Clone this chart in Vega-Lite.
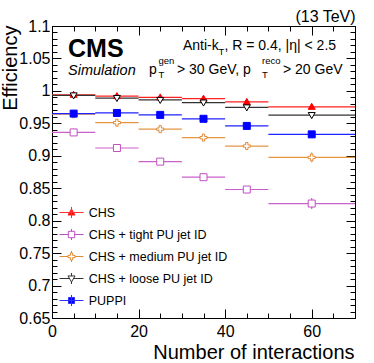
{
  "$schema": "https://vega.github.io/schema/vega-lite/v6.json",
  "width": 303,
  "height": 292,
  "autosize": "none",
  "padding": {"left": 52, "top": 26, "right": 19, "bottom": 45},
  "title": {"text": "(13 TeV)", "anchor": "end", "fontSize": 16, "fontWeight": "normal", "font": "Liberation Sans", "color": "black", "offset": -7},
  "config": {
    "font": "Liberation Sans",
    "text": {"font": "Liberation Sans"},
    "view": {"stroke": "black", "strokeWidth": 1},
    "axis": {"domain": false, "grid": false, "labelFont": "Liberation Sans", "labelColor": "black", "tickColor": "black", "tickWidth": 1, "labelFlush": false, "labelOverlap": false, "titleFont": "Liberation Sans", "titleColor": "black", "titleFontWeight": "normal"}
  },
  "data": {"name": "eff"},
  "datasets": {
    "eff": [
      {"series": "CHS", "lo": 0, "hi": 10, "mid": 5, "eff": 0.994, "elo": 0.992, "ehi": 0.996},
      {"series": "CHS", "lo": 10, "hi": 20, "mid": 15, "eff": 0.992, "elo": 0.990, "ehi": 0.994},
      {"series": "CHS", "lo": 20, "hi": 30, "mid": 25, "eff": 0.990, "elo": 0.988, "ehi": 0.992},
      {"series": "CHS", "lo": 30, "hi": 40, "mid": 35, "eff": 0.988, "elo": 0.985, "ehi": 0.991},
      {"series": "CHS", "lo": 40, "hi": 50, "mid": 45, "eff": 0.983, "elo": 0.980, "ehi": 0.986},
      {"series": "CHS", "lo": 50, "hi": 70, "mid": 60, "eff": 0.9755, "elo": 0.9715, "ehi": 0.9795},
      {"series": "CHS + tight PU jet ID", "lo": 0, "hi": 10, "mid": 5, "eff": 0.936, "elo": 0.934, "ehi": 0.938},
      {"series": "CHS + tight PU jet ID", "lo": 10, "hi": 20, "mid": 15, "eff": 0.912, "elo": 0.910, "ehi": 0.914},
      {"series": "CHS + tight PU jet ID", "lo": 20, "hi": 30, "mid": 25, "eff": 0.891, "elo": 0.888, "ehi": 0.894},
      {"series": "CHS + tight PU jet ID", "lo": 30, "hi": 40, "mid": 35, "eff": 0.867, "elo": 0.864, "ehi": 0.870},
      {"series": "CHS + tight PU jet ID", "lo": 40, "hi": 50, "mid": 45, "eff": 0.848, "elo": 0.844, "ehi": 0.852},
      {"series": "CHS + tight PU jet ID", "lo": 50, "hi": 70, "mid": 60, "eff": 0.8264, "elo": 0.818, "ehi": 0.835},
      {"series": "CHS + medium PU jet ID", "lo": 0, "hi": 10, "mid": 5, "eff": 0.964, "elo": 0.962, "ehi": 0.966},
      {"series": "CHS + medium PU jet ID", "lo": 10, "hi": 20, "mid": 15, "eff": 0.951, "elo": 0.949, "ehi": 0.953},
      {"series": "CHS + medium PU jet ID", "lo": 20, "hi": 30, "mid": 25, "eff": 0.941, "elo": 0.939, "ehi": 0.943},
      {"series": "CHS + medium PU jet ID", "lo": 30, "hi": 40, "mid": 35, "eff": 0.928, "elo": 0.925, "ehi": 0.931},
      {"series": "CHS + medium PU jet ID", "lo": 40, "hi": 50, "mid": 45, "eff": 0.915, "elo": 0.912, "ehi": 0.918},
      {"series": "CHS + medium PU jet ID", "lo": 50, "hi": 70, "mid": 60, "eff": 0.8974, "elo": 0.890, "ehi": 0.905},
      {"series": "CHS + loose PU jet ID", "lo": 0, "hi": 10, "mid": 5, "eff": 0.993, "elo": 0.991, "ehi": 0.995},
      {"series": "CHS + loose PU jet ID", "lo": 10, "hi": 20, "mid": 15, "eff": 0.989, "elo": 0.987, "ehi": 0.991},
      {"series": "CHS + loose PU jet ID", "lo": 20, "hi": 30, "mid": 25, "eff": 0.986, "elo": 0.984, "ehi": 0.988},
      {"series": "CHS + loose PU jet ID", "lo": 30, "hi": 40, "mid": 35, "eff": 0.982, "elo": 0.979, "ehi": 0.985},
      {"series": "CHS + loose PU jet ID", "lo": 40, "hi": 50, "mid": 45, "eff": 0.9745, "elo": 0.971, "ehi": 0.978},
      {"series": "CHS + loose PU jet ID", "lo": 50, "hi": 70, "mid": 60, "eff": 0.9627, "elo": 0.958, "ehi": 0.9675},
      {"series": "PUPPI", "lo": 0, "hi": 10, "mid": 5, "eff": 0.965, "elo": 0.963, "ehi": 0.967},
      {"series": "PUPPI", "lo": 10, "hi": 20, "mid": 15, "eff": 0.966, "elo": 0.964, "ehi": 0.968},
      {"series": "PUPPI", "lo": 20, "hi": 30, "mid": 25, "eff": 0.963, "elo": 0.961, "ehi": 0.965},
      {"series": "PUPPI", "lo": 30, "hi": 40, "mid": 35, "eff": 0.957, "elo": 0.955, "ehi": 0.959},
      {"series": "PUPPI", "lo": 40, "hi": 50, "mid": 45, "eff": 0.946, "elo": 0.943, "ehi": 0.949},
      {"series": "PUPPI", "lo": 50, "hi": 70, "mid": 60, "eff": 0.933, "elo": 0.928, "ehi": 0.938}
    ]
  },
  "resolve": {
    "axis": {"x": "independent", "y": "independent"},
    "scale": {"stroke": "independent", "fill": "independent", "shape": "independent"}
  },
  "layer": [
    {
      "mark": {"type": "rule", "strokeWidth": 1.2},
      "encoding": {
        "x": {"field": "lo", "type": "quantitative", "scale": {"domain": [0, 70], "nice": false, "zero": false},
          "axis": {"orient": "bottom", "values": [0, 20, 40, 60], "tickSize": -9, "labelFontSize": 16, "labelPadding": 14, "title": "Number of interactions", "titleFontSize": 20, "titleX": 302, "titleY": 40, "titleAlign": "right", "titleBaseline": "alphabetic", "titleAnchor": null}},
        "x2": {"field": "hi"},
        "y": {"field": "eff", "type": "quantitative", "scale": {"domain": [0.65, 1.1], "nice": false, "zero": false},
          "axis": {"orient": "left", "values": [0.65, 0.7, 0.75, 0.8, 0.85, 0.9, 0.95, 1, 1.05, 1.1], "format": "~g", "tickSize": -9, "labelFontSize": 16, "labelPadding": 11, "title": "Efficiency", "titleFontSize": 20, "titleX": -36, "titleY": -1, "titleAngle": 270, "titleAlign": "right", "titleBaseline": "alphabetic", "titleAnchor": null}},
        "stroke": {"field": "series", "type": "nominal", "legend": null,
          "scale": {"domain": ["CHS", "CHS + tight PU jet ID", "CHS + medium PU jet ID", "CHS + loose PU jet ID", "PUPPI"], "range": ["#ff2020", "#cc5fcc", "#e69545", "#333333", "#2020ff"]}}
      }
    },
    {
      "mark": {"type": "rule", "strokeWidth": 1.2},
      "encoding": {
        "x": {"field": "mid", "type": "quantitative", "axis": {"orient": "bottom", "values": [0, 5, 10, 15, 20, 25, 30, 35, 40, 45, 50, 55, 60, 65, 70], "tickSize": -5, "labels": false, "title": null}},
        "y": {"field": "elo", "type": "quantitative",
          "axis": {"orient": "left", "values": [0.65, 0.66, 0.67, 0.68, 0.69, 0.7, 0.71, 0.72, 0.73, 0.74, 0.75, 0.76, 0.77, 0.78, 0.79, 0.8, 0.81, 0.82, 0.83, 0.84, 0.85, 0.86, 0.87, 0.88, 0.89, 0.9, 0.91, 0.92, 0.93, 0.94, 0.95, 0.96, 0.97, 0.98, 0.99, 1, 1.01, 1.02, 1.03, 1.04, 1.05, 1.06, 1.07, 1.08, 1.09, 1.1], "tickSize": -5, "labels": false, "title": null}},
        "y2": {"field": "ehi"},
        "stroke": {"field": "series", "type": "nominal", "legend": null,
          "scale": {"domain": ["CHS", "CHS + tight PU jet ID", "CHS + medium PU jet ID", "CHS + loose PU jet ID", "PUPPI"], "range": ["#ff2020", "#cc5fcc", "#e69545", "#333333", "#2020ff"]}}
      }
    },
    {
      "mark": {"type": "point", "filled": true, "size": 49, "strokeWidth": 1, "opacity": 1},
      "encoding": {
        "x": {"field": "mid", "type": "quantitative", "axis": {"orient": "top", "values": [0, 20, 40, 60], "tickSize": -9, "labels": false, "title": null}},
        "y": {"field": "eff", "type": "quantitative", "axis": {"orient": "right", "values": [0.65, 0.7, 0.75, 0.8, 0.85, 0.9, 0.95, 1, 1.05, 1.1], "tickSize": -9, "labels": false, "title": null}},
        "shape": {"field": "series", "type": "nominal", "legend": null,
          "scale": {"domain": ["CHS", "CHS + tight PU jet ID", "CHS + medium PU jet ID", "CHS + loose PU jet ID", "PUPPI"],
            "range": ["M0,-1L1,0.73H-1Z", "M-1,-1H1V1H-1Z", "M-0.33,-1H0.33V-0.33H1V0.33H0.33V1H-0.33V0.33H-1V-0.33H-0.33Z", "M-1,-0.73H1L0,1Z", "M-1,-1H1V1H-1Z"]}},
        "stroke": {"field": "series", "type": "nominal", "legend": null,
          "scale": {"domain": ["CHS", "CHS + tight PU jet ID", "CHS + medium PU jet ID", "CHS + loose PU jet ID", "PUPPI"], "range": ["#ff0000", "#c050c0", "#e08a35", "#000000", "#0000ff"]}},
        "fill": {"field": "series", "type": "nominal", "legend": null,
          "scale": {"domain": ["CHS", "CHS + tight PU jet ID", "CHS + medium PU jet ID", "CHS + loose PU jet ID", "PUPPI"], "range": ["#ff0000", "#ffffff", "#ffffff", "#ffffff", "#0000ff"]}}
      }
    },
    {
      "transform": [{"filter": "false"}],
      "mark": {"type": "point", "filled": true, "size": 256, "strokeWidth": 1, "opacity": 1},
      "encoding": {
        "x": {"field": "mid", "type": "quantitative", "axis": {"orient": "top", "values": [0, 5, 10, 15, 20, 25, 30, 35, 40, 45, 50, 55, 60, 65, 70], "tickSize": -5, "labels": false, "title": null}},
        "y": {"field": "eff", "type": "quantitative", "axis": {"orient": "right", "values": [0.65, 0.66, 0.67, 0.68, 0.69, 0.7, 0.71, 0.72, 0.73, 0.74, 0.75, 0.76, 0.77, 0.78, 0.79, 0.8, 0.81, 0.82, 0.83, 0.84, 0.85, 0.86, 0.87, 0.88, 0.89, 0.9, 0.91, 0.92, 0.93, 0.94, 0.95, 0.96, 0.97, 0.98, 0.99, 1, 1.01, 1.02, 1.03, 1.04, 1.05, 1.06, 1.07, 1.08, 1.09, 1.1], "tickSize": -5, "labels": false, "title": null}},
        "shape": {"field": "series", "type": "nominal",
          "scale": {"domain": ["CHS", "CHS + tight PU jet ID", "CHS + medium PU jet ID", "CHS + loose PU jet ID", "PUPPI"],
            "range": [
              "M-1.5,0H1.5M0,-0.69V0.69M0,-0.44L0.44,0.32H-0.44Z",
              "M-1.5,0H-0.4M0.4,0H1.5M0,-0.69V-0.4M0,0.4V0.69M-0.4,-0.4H0.4V0.4H-0.4Z",
              "M-1.5,0H-0.44M0.44,0H1.5M0,-0.69V-0.44M0,0.44V0.69M-0.14,-0.44H0.14V-0.14H0.44V0.14H0.14V0.44H-0.14V0.14H-0.44V-0.14H-0.14Z",
              "M-1.5,0H-0.255M0.255,0H1.5M0,-0.69V-0.32M0,0.44V0.69M-0.44,-0.32H0.44L0,0.44Z",
              "M-1.5,0H1.5M0,-0.69V0.69M-0.38,-0.38H0.38V0.38H-0.38Z"
            ]},
          "legend": {"orient": "none", "legendX": 11, "legendY": 178, "title": null, "padding": 0, "labelFontSize": 12.5, "labelFont": "Liberation Sans", "labelColor": "black", "symbolSize": 256, "symbolStrokeWidth": 1, "rowPadding": 5, "labelOffset": 8.7, "labelLimit": 300}},
        "stroke": {"field": "series", "type": "nominal",
          "scale": {"domain": ["CHS", "CHS + tight PU jet ID", "CHS + medium PU jet ID", "CHS + loose PU jet ID", "PUPPI"], "range": ["#ff3030", "#c050c0", "#e08a35", "#333333", "#3030ff"]},
          "legend": {"orient": "none", "legendX": 11, "legendY": 178, "title": null, "padding": 0, "labelFontSize": 12.5, "labelFont": "Liberation Sans", "labelColor": "black", "symbolSize": 256, "symbolStrokeWidth": 1, "rowPadding": 5, "labelOffset": 8.7, "labelLimit": 300}},
        "fill": {"field": "series", "type": "nominal",
          "scale": {"domain": ["CHS", "CHS + tight PU jet ID", "CHS + medium PU jet ID", "CHS + loose PU jet ID", "PUPPI"], "range": ["#ff0000", "#ffffff", "#ffffff", "#ffffff", "#0000ff"]},
          "legend": {"orient": "none", "legendX": 11, "legendY": 178, "title": null, "padding": 0, "labelFontSize": 12.5, "labelFont": "Liberation Sans", "labelColor": "black", "symbolSize": 256, "symbolStrokeWidth": 1, "rowPadding": 5, "labelOffset": 8.7, "labelLimit": 300}}
      }
    },
    {
      "data": {"values": [{}]},
      "mark": {"type": "text", "text": "CMS", "align": "left", "baseline": "alphabetic", "fontSize": 25, "fontWeight": "bold", "font": "Liberation Sans", "color": "black"},
      "encoding": {"x": {"datum": 3.7, "type": "quantitative", "axis": null}, "y": {"datum": 1.0522, "type": "quantitative", "axis": null}}
    },
    {
      "data": {"values": [{}]},
      "mark": {"type": "text", "text": "Simulation", "align": "left", "baseline": "alphabetic", "fontSize": 14.5, "fontStyle": "italic", "font": "Liberation Sans", "color": "black"},
      "encoding": {"x": {"datum": 3.7, "type": "quantitative", "axis": null}, "y": {"datum": 1.0244, "type": "quantitative", "axis": null}}
    },
    {
      "data": {"values": [{}]},
      "mark": {"type": "text", "text": "Anti-k", "align": "left", "baseline": "alphabetic", "fontSize": 14, "font": "Liberation Sans", "color": "black"},
      "encoding": {"x": {"datum": 30.26, "type": "quantitative", "axis": null}, "y": {"datum": 1.063, "type": "quantitative", "axis": null}}
    },
    {
      "data": {"values": [{}]},
      "mark": {"type": "text", "text": "T", "align": "left", "baseline": "alphabetic", "fontSize": 9.5, "font": "Liberation Sans", "color": "black"},
      "encoding": {"x": {"datum": 38.47, "type": "quantitative", "axis": null}, "y": {"datum": 1.0553, "type": "quantitative", "axis": null}}
    },
    {
      "data": {"values": [{}]},
      "mark": {"type": "text", "text": ", R = 0.4, |η| < 2.5", "align": "left", "baseline": "alphabetic", "fontSize": 14, "font": "Liberation Sans", "color": "black"},
      "encoding": {"x": {"datum": 39.85, "type": "quantitative", "axis": null}, "y": {"datum": 1.063, "type": "quantitative", "axis": null}}
    },
    {
      "data": {"values": [{}]},
      "mark": {"type": "text", "text": "p", "align": "left", "baseline": "alphabetic", "fontSize": 14, "font": "Liberation Sans", "color": "black"},
      "encoding": {"x": {"datum": 22.41, "type": "quantitative", "axis": null}, "y": {"datum": 1.0259, "type": "quantitative", "axis": null}}
    },
    {
      "data": {"values": [{}]},
      "mark": {"type": "text", "text": "gen", "align": "left", "baseline": "alphabetic", "fontSize": 9.5, "font": "Liberation Sans", "color": "black"},
      "encoding": {"x": {"datum": 24.6, "type": "quantitative", "axis": null}, "y": {"datum": 1.0414, "type": "quantitative", "axis": null}}
    },
    {
      "data": {"values": [{}]},
      "mark": {"type": "text", "text": "T", "align": "left", "baseline": "alphabetic", "fontSize": 9.5, "font": "Liberation Sans", "color": "black"},
      "encoding": {"x": {"datum": 24.6, "type": "quantitative", "axis": null}, "y": {"datum": 1.0198, "type": "quantitative", "axis": null}}
    },
    {
      "data": {"values": [{}]},
      "mark": {"type": "text", "text": "> 30 GeV, p", "align": "left", "baseline": "alphabetic", "fontSize": 14, "font": "Liberation Sans", "color": "black"},
      "encoding": {"x": {"datum": 28.88, "type": "quantitative", "axis": null}, "y": {"datum": 1.0259, "type": "quantitative", "axis": null}}
    },
    {
      "data": {"values": [{}]},
      "mark": {"type": "text", "text": "reco", "align": "left", "baseline": "alphabetic", "fontSize": 9.5, "font": "Liberation Sans", "color": "black"},
      "encoding": {"x": {"datum": 48.51, "type": "quantitative", "axis": null}, "y": {"datum": 1.0414, "type": "quantitative", "axis": null}}
    },
    {
      "data": {"values": [{}]},
      "mark": {"type": "text", "text": "T", "align": "left", "baseline": "alphabetic", "fontSize": 9.5, "font": "Liberation Sans", "color": "black"},
      "encoding": {"x": {"datum": 48.51, "type": "quantitative", "axis": null}, "y": {"datum": 1.0198, "type": "quantitative", "axis": null}}
    },
    {
      "data": {"values": [{}]},
      "mark": {"type": "text", "text": "> 20 GeV", "align": "left", "baseline": "alphabetic", "fontSize": 14, "font": "Liberation Sans", "color": "black"},
      "encoding": {"x": {"datum": 53.37, "type": "quantitative", "axis": null}, "y": {"datum": 1.0259, "type": "quantitative", "axis": null}}
    }
  ]
}
